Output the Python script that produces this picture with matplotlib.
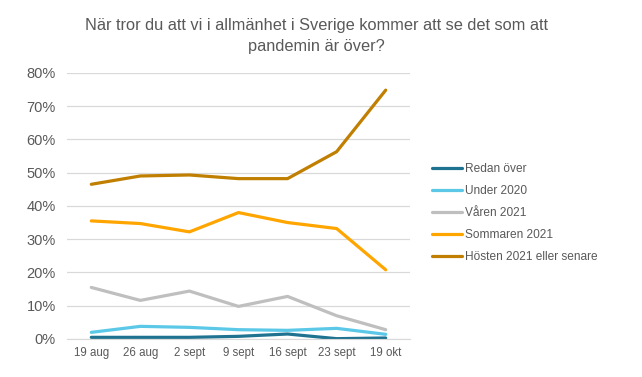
import matplotlib
matplotlib.use("Agg")
import matplotlib.pyplot as plt
from matplotlib.ticker import PercentFormatter

plt.rcParams['font.family'] = ['Liberation Sans', 'DejaVu Sans']

dates = ["19 aug", "26 aug", "2 sept", "9 sept", "16 sept", "23 sept", "19 okt"]
redan_over = [0.5, 0.5, 0.5, 0.8, 1.5, 0.1, 0.3]
under_2020 = [2.0, 3.8, 3.5, 2.8, 2.6, 3.2, 1.4]
varen_2021 = [15.5, 11.6, 14.4, 9.8, 12.8, 7.0, 2.8]
sommaren_2021 = [35.5, 34.7, 32.2, 38.0, 35.0, 33.2, 20.8]
hosten_2021 = [46.5, 49.0, 49.3, 48.2, 48.2, 56.3, 74.8]

series = [
    ("Redan över", redan_over, "#1F7391"),
    ("Under 2020", under_2020, "#5BC8E8"),
    ("Våren 2021", varen_2021, "#BFBFBF"),
    ("Sommaren 2021", sommaren_2021, "#FFA500"),
    ("Hösten 2021 eller senare", hosten_2021, "#C07F00"),
]

fig = plt.figure(figsize=(6.42, 3.77), dpi=100)
ax = fig.add_axes([0.104, 0.1008, 0.535, 0.706])

x = range(len(dates))
for name, vals, col in series:
    ax.plot(x, vals, color=col, lw=2.3, label=name, solid_capstyle='round')

ax.set_ylim(0, 80)
ax.set_xlim(-0.5, 6.5)
ax.set_yticks(range(0, 81, 10))
ax.yaxis.set_major_formatter(PercentFormatter(decimals=0))
ax.set_xticks(list(x))
ax.set_xticklabels(dates)
ax.grid(axis='y', color='#D9D9D9', lw=0.9)
ax.set_axisbelow(True)
for s in ['top', 'right', 'left']:
    ax.spines[s].set_visible(False)
ax.spines['bottom'].set_color('#D9D9D9')
ax.tick_params(axis='both', length=0, colors='#595959')
ax.tick_params(axis='y', pad=8, labelsize=10.5)
ax.tick_params(axis='x', pad=6, labelsize=8.3)

fig.text(0.493, 0.952, "När tror du att vi i allmänhet i Sverige kommer att se det som att\npandemin är över?",
         ha='center', va='top', fontsize=11.8, color='#595959', linespacing=1.5)

leg = fig.legend(loc='upper left', bbox_to_anchor=(0.656, 0.597), frameon=False,
                 fontsize=8.6, handlelength=2.55, handletextpad=0.25, labelspacing=0.85,
                 labelcolor='#595959')

fig.savefig("out.png", dpi=100)
